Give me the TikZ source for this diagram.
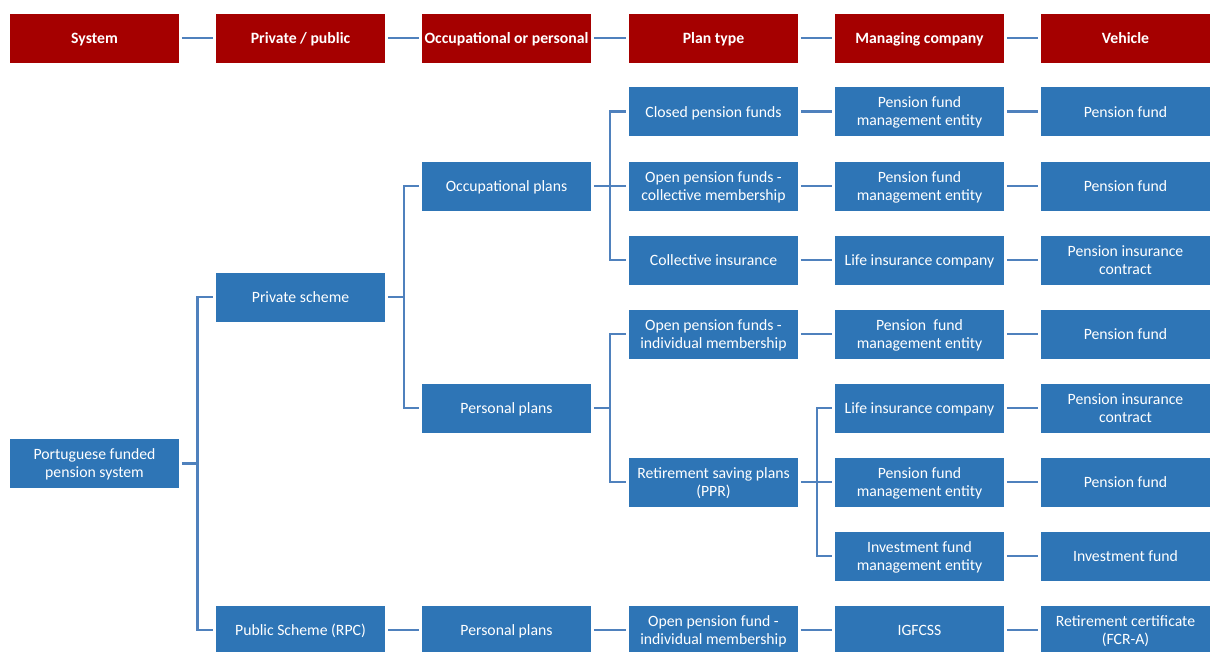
\documentclass[tikz,border=0pt]{standalone}
\usepackage{fontspec}
\setmainfont{Carlito}
\usetikzlibrary{calc}
\definecolor{hdrred}{RGB}{165,0,0}
\definecolor{boxblue}{RGB}{46,117,182}
\definecolor{linkblue}{RGB}{79,129,189}

\begin{document}
\begin{tikzpicture}[x=0.75pt,y=-0.75pt,
  box/.style={fill=boxblue,text=white,minimum width=126.75pt,minimum height=36.75pt,
    inner sep=0pt,outer sep=2.2pt,align=center,font=\fontsize{11.8}{13.5}\selectfont,
    execute at begin node=\rule{0pt}{12.4pt},execute at end node=\strut},
  box2/.style={box,execute at begin node=\rule{0pt}{25.5pt}},
  hdr/.style={box,fill=hdrred,font=\fontsize{11.8}{13.5}\selectfont\bfseries},
  link/.style={draw=linkblue,line width=1.6pt}]
\useasboundingbox (0,0) rectangle (1210,651);

% header row
\node[hdr] (hsys) at (94.5,38) {System};
\node[hdr] (hpub) at (300.5,38) {Private / public};
\node[hdr] (hocc) at (506.5,38) {Occupational or personal};
\node[hdr] (htyp) at (713.5,38) {Plan type};
\node[hdr] (hman) at (919.5,38) {Managing company};
\node[hdr] (hveh) at (1125.5,38) {Vehicle};
\draw[link] (hsys) -- (hpub);
\draw[link] (hpub) -- (hocc);
\draw[link] (hocc) -- (htyp);
\draw[link] (htyp) -- (hman);
\draw[link] (hman) -- (hveh);

% system and schemes
\node[box2] (port) at (94.5,463.5) {Portuguese funded\\pension system};
\node[box] (priv) at (300.5,297) {Private scheme};
\node[box] (publ) at (300.5,630) {Public Scheme (RPC)};

% occupational / personal
\node[box] (occ) at (506.5,186) {Occupational plans};
\node[box] (pers) at (506.5,408) {Personal plans};
\node[box] (pers2) at (506.5,630) {Personal plans};

% plan types
\node[box] (closed) at (713.5,111.5) {Closed pension funds};
\node[box2] (opcol) at (713.5,186) {Open pension funds -\\collective membership};
\node[box] (colins) at (713.5,260) {Collective insurance};
\node[box2] (opind) at (713.5,334) {Open pension funds -\\individual membership};
\node[box2] (ppr) at (713.5,482) {Retirement saving plans\\(PPR)};
\node[box2] (opind2) at (713.5,630) {Open pension fund -\\individual membership};

% managing companies
\node[box2] (man1) at (919.5,111.5) {Pension fund\\management entity};
\node[box2] (man2) at (919.5,186) {Pension fund\\management entity};
\node[box] (man3) at (919.5,260) {Life insurance company};
\node[box2] (man4) at (919.5,334) {Pension\ \ fund\\management entity};
\node[box] (man5) at (919.5,408) {Life insurance company};
\node[box2] (man6) at (919.5,482) {Pension fund\\management entity};
\node[box2] (man7) at (919.5,556) {Investment fund\\management entity};
\node[box] (man8) at (919.5,630) {IGFCSS};

% vehicles
\node[box] (veh1) at (1125.5,111.5) {Pension fund};
\node[box] (veh2) at (1125.5,186) {Pension fund};
\node[box2] (veh3) at (1125.5,260) {Pension insurance\\contract};
\node[box] (veh4) at (1125.5,334) {Pension fund};
\node[box2] (veh5) at (1125.5,408) {Pension insurance\\contract};
\node[box] (veh6) at (1125.5,482) {Pension fund};
\node[box] (veh7) at (1125.5,556) {Investment fund};
\node[box2] (veh8) at (1125.5,630) {Retirement certificate\\(FCR-A)};

% branch points
\coordinate (j0) at (197.5,463.5);
\coordinate (j1) at (404,297);
\coordinate (j2) at (610,186);
\coordinate (j3) at (610,408);
\coordinate (j4) at (817,482);

\draw[link] (port) -- (j0);
\draw[link] (j0) |- (priv);
\draw[link] (j0) |- (publ);
\draw[link] (priv) -- (j1);
\draw[link] (j1) |- (occ);
\draw[link] (j1) |- (pers);
\draw[link] (occ) -- (j2);
\draw[link] (j2) |- (closed);
\draw[link] (j2) -- (opcol);
\draw[link] (j2) |- (colins);
\draw[link] (pers) -- (j3);
\draw[link] (j3) |- (opind);
\draw[link] (j3) |- (ppr);
\draw[link] (ppr) -- (j4);
\draw[link] (j4) |- (man5);
\draw[link] (j4) -- (man6);
\draw[link] (j4) |- (man7);

% straight links
\draw[link] (publ) -- (pers2);
\draw[link] (pers2) -- (opind2);
\draw[link] (closed) -- (man1);
\draw[link] (opcol) -- (man2);
\draw[link] (colins) -- (man3);
\draw[link] (opind) -- (man4);
\draw[link] (opind2) -- (man8);
\draw[link] (man1) -- (veh1);
\draw[link] (man2) -- (veh2);
\draw[link] (man3) -- (veh3);
\draw[link] (man4) -- (veh4);
\draw[link] (man5) -- (veh5);
\draw[link] (man6) -- (veh6);
\draw[link] (man7) -- (veh7);
\draw[link] (man8) -- (veh8);
\end{tikzpicture}
\end{document}
